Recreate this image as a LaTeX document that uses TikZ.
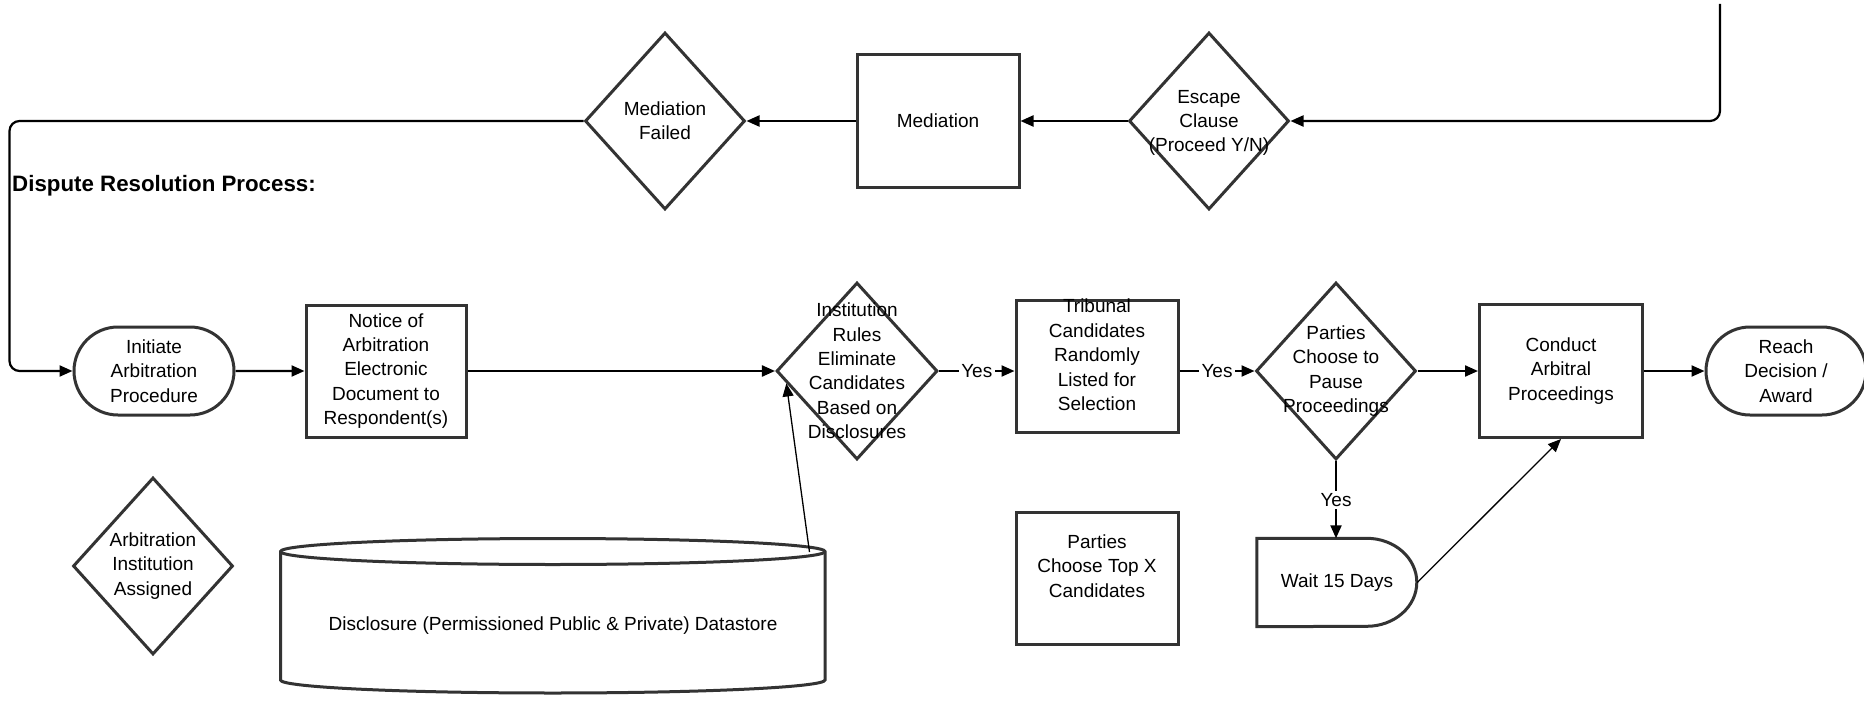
\documentclass[tikz,border=0pt]{standalone}
\usepackage{fontspec}
\setmainfont{Liberation Sans}
\usetikzlibrary{shapes.geometric,shapes.misc,arrows.meta}
\definecolor{edge}{HTML}{333333}

\begin{document}
\begin{tikzpicture}[x=1pt,y=-1pt,
  shp/.style={draw=edge,line width=3pt,fill=white},
  box/.style={shp,rectangle,minimum width=162pt,minimum height=132pt,inner sep=0pt},
  dia/.style={shp,diamond,minimum width=160pt,minimum height=177pt,inner sep=0pt},
  term/.style={shp,rounded rectangle,minimum width=160pt,minimum height=88pt,inner sep=0pt},
  frame/.style={rectangle,inner sep=0pt},
  txt/.style={align=center,font=\fontsize{19pt}{24.4pt}\selectfont,inner sep=0pt},
  flow/.style={line width=2.2pt,-{Triangle[length=13pt,width=11pt]}},
  thin/.style={line width=1.3pt,-{Triangle[length=13pt,width=11pt]}},
  yes/.style={fill=white,inner sep=2.5pt,font=\fontsize{19pt}{24pt}\selectfont}
]
\useasboundingbox (0,0) rectangle (1864,701);

% upper row: escape clause and mediation
\node[dia] (esc) at (1209,121) {};
\node[txt] (esc-t) at ([yshift=-2pt]esc.center) {Escape\\Clause\\(Proceed Y/N)};
\node[box] (med) at (938,121) {};
\node[txt] (med-t) at (med) {Mediation};
\node[dia] (medf) at (665,121) {};
\node[txt] (medf-t) at (medf) {Mediation\\Failed};

\node[anchor=west,inner sep=0pt,font=\fontsize{22.3pt}{26pt}\selectfont\bfseries] (title) at (12,186) {Dispute Resolution Process:};

% main row
\node[term] (init) at (154,371) {};
\node[txt] (init-t) at (init) {Initiate\\Arbitration\\Procedure};
\node[box,minimum width=160pt] (notice) at (386,371) {};
\node[txt] (notice-t) at (notice) {Notice of\\Arbitration\\Electronic\\Document to\\Respondent(s)};
\node[dia,minimum width=161pt] (inst) at (857,371) {};
\node[txt] (inst-t) at (inst) {Institution\\Rules\\Eliminate\\Candidates\\Based on\\Disclosures};
\node[box] (trib) at (1097,366) {};
\node[txt] (trib-t) at (1097,355) {Tribunal\\Candidates\\Randomly\\Listed for\\Selection};
\node[dia] (parties) at (1336,371) {};
\node[txt] (parties-t) at (parties) {Parties\\Choose to\\Pause\\Proceedings};
\node[box,minimum width=163pt,minimum height=133pt] (conduct) at (1561,371) {};
\node[txt] (conduct-t) at (conduct) {Conduct\\Arbitral\\Proceedings};
\node[term] (reach) at (1786,371) {};
\node[txt] (reach-t) at (reach) {Reach\\Decision /\\Award};

% lower row
\node[dia] (aia) at (153,566) {};
\node[txt] (aia-t) at (aia) {Arbitration\\Institution\\Assigned};

\node[frame,minimum width=545pt,minimum height=155pt] (ds) at (552.75,616) {};
\path[shp] (280.5,551.5) -- (280.5,680)
  arc[start angle=180,end angle=360,x radius=272.25pt,y radius=13pt]
  -- (825,551.5)
  arc[start angle=0,end angle=180,x radius=272.25pt,y radius=13pt] -- cycle;
\draw[draw=edge,line width=3pt] (280.5,551.5)
  arc[start angle=180,end angle=360,x radius=272.25pt,y radius=13pt];
\node[txt] (ds-t) at (553,626) {Disclosure (Permissioned Public \& Private) Datastore};
\coordinate (ds-tap) at (809.5,552);

\node[box] (topx) at (1097,578) {};
\node[txt] (topx-t) at (1097,566) {Parties\\Choose Top X\\Candidates};

\node[frame,minimum width=160pt,minimum height=88pt] (wait) at (1337,582.5) {};
\draw[shp] (wait.north west) -- ++(110,0)
  arc[start angle=90,end angle=-90,x radius=50pt,y radius=44pt]
  -- (wait.south west) -- cycle;
\node[txt] (wait-t) at (wait) {Wait 15 Days};

% connectors
\coordinate (entry) at (1720,4);
\draw[flow,rounded corners=10pt] (entry) |- (esc.east);
\draw[flow] (esc) -- (med);
\draw[flow] (med) -- (medf);
\coordinate (loop) at (9.5,0);
\draw[flow,rounded corners=10pt] (medf.west) -| (loop |- init.west) -- (init.west);
\draw[flow] (init) -- (notice);
\draw[flow] (notice) -- (inst);
\draw[flow] (inst.east) -- node[yes] (yes1) {Yes} (inst.east -| trib.west);
\draw[flow] (trib.east |- parties.west) -- node[yes] (yes2) {Yes} (parties.west);
\draw[flow] (parties) -- (conduct);
\draw[flow] (conduct) -- (reach);
\draw[flow] (parties.south) -- node[yes] (yes3) {Yes} (parties.south |- wait.north);
\draw[thin] (wait.east) -- (conduct.south);
\draw[thin] (ds-tap) -- (inst.190);
\end{tikzpicture}
\end{document}
